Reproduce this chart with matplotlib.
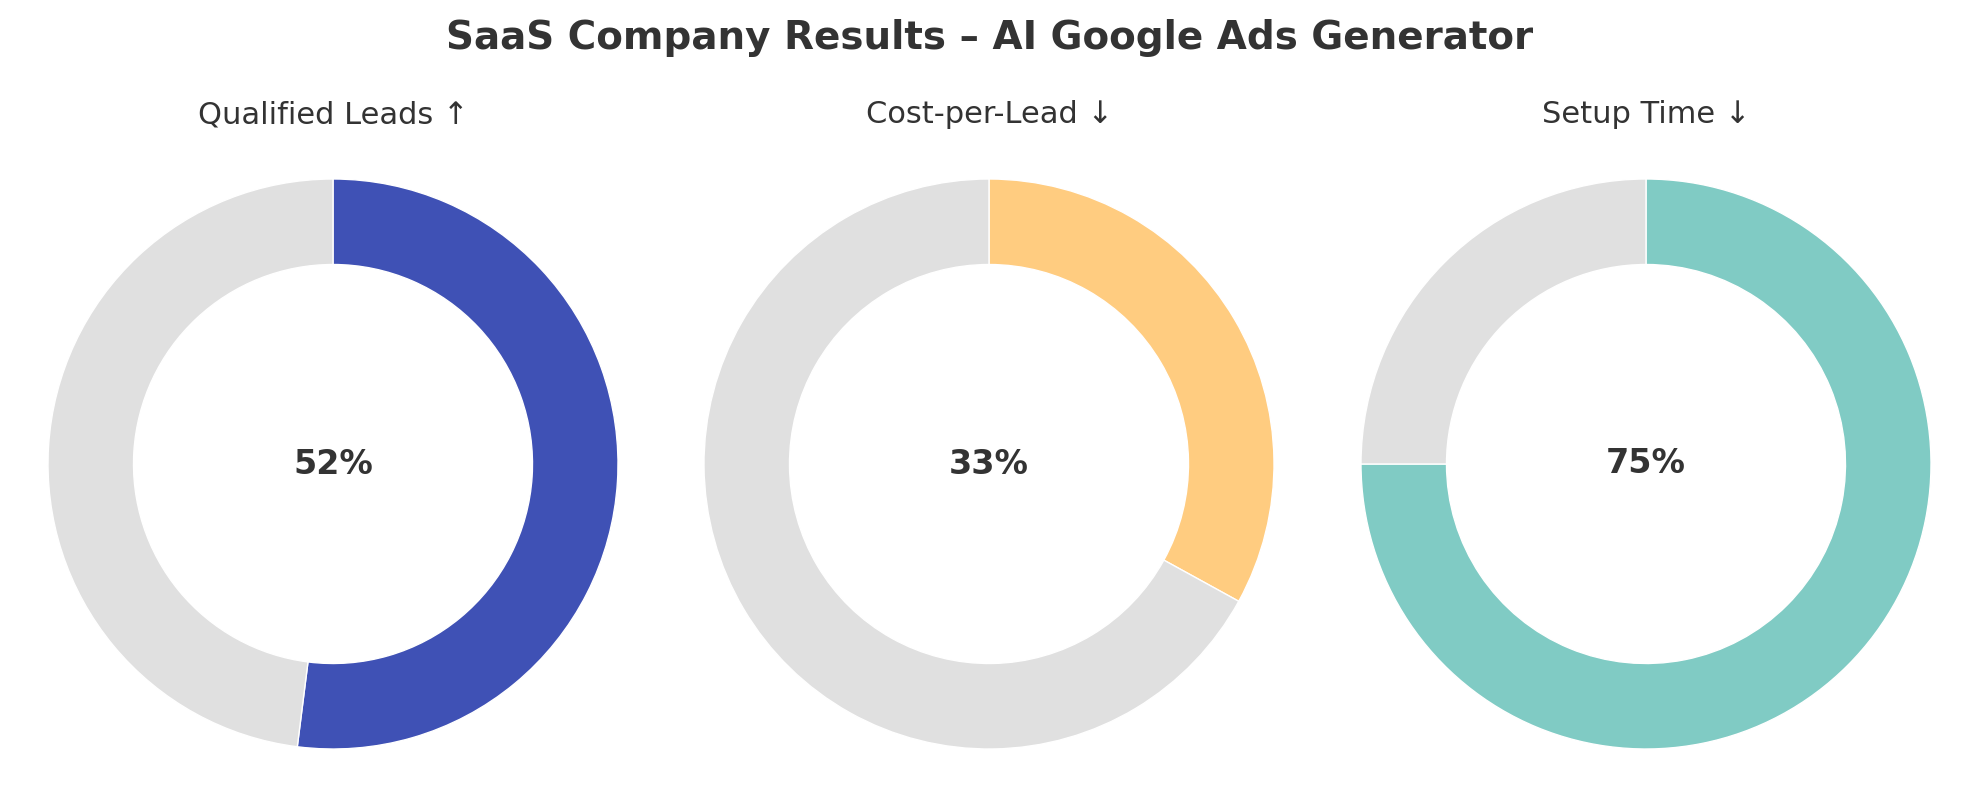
import matplotlib
matplotlib.use("Agg")
import matplotlib.pyplot as plt

metrics = ["Qualified Leads ↑", "Cost-per-Lead ↓", "Setup Time ↓"]
values = [52, 33, 75]
colors = ["#3F51B5", "#FFCC80", "#80CBC4"]
rest_color = "#E0E0E0"
title = "SaaS Company Results – AI Google Ads Generator"

W, H = 1980, 794
fig = plt.figure(figsize=(W / 200, H / 200), dpi=200)

centers_x = [333, 989, 1646]
cy = H - 464
r = 285

for i, (name, val, col) in enumerate(zip(metrics, values, colors)):
    ax = fig.add_axes([(centers_x[i] - r) / W, (cy - r) / H, 2 * r / W, 2 * r / H])
    ax.pie([val, 100 - val], colors=[col, rest_color], startangle=90,
           counterclock=False, radius=1,
           wedgeprops=dict(width=0.3, edgecolor="white", linewidth=0.5))
    ax.set_xlim(-1, 1)
    ax.set_ylim(-1, 1)
    ax.set_aspect("equal")
    ax.text(0, 0, f"{val}%", ha="center", va="center", fontsize=12,
            fontweight="bold", color="#333333")
    ax.set_title(name, fontsize=11, color="#333333", pad=20)

fig.suptitle(title, fontsize=14, fontweight="bold", color="#333333", y=1 - 38 / H, va="center")
fig.savefig("out.png", dpi=200, facecolor="white")
